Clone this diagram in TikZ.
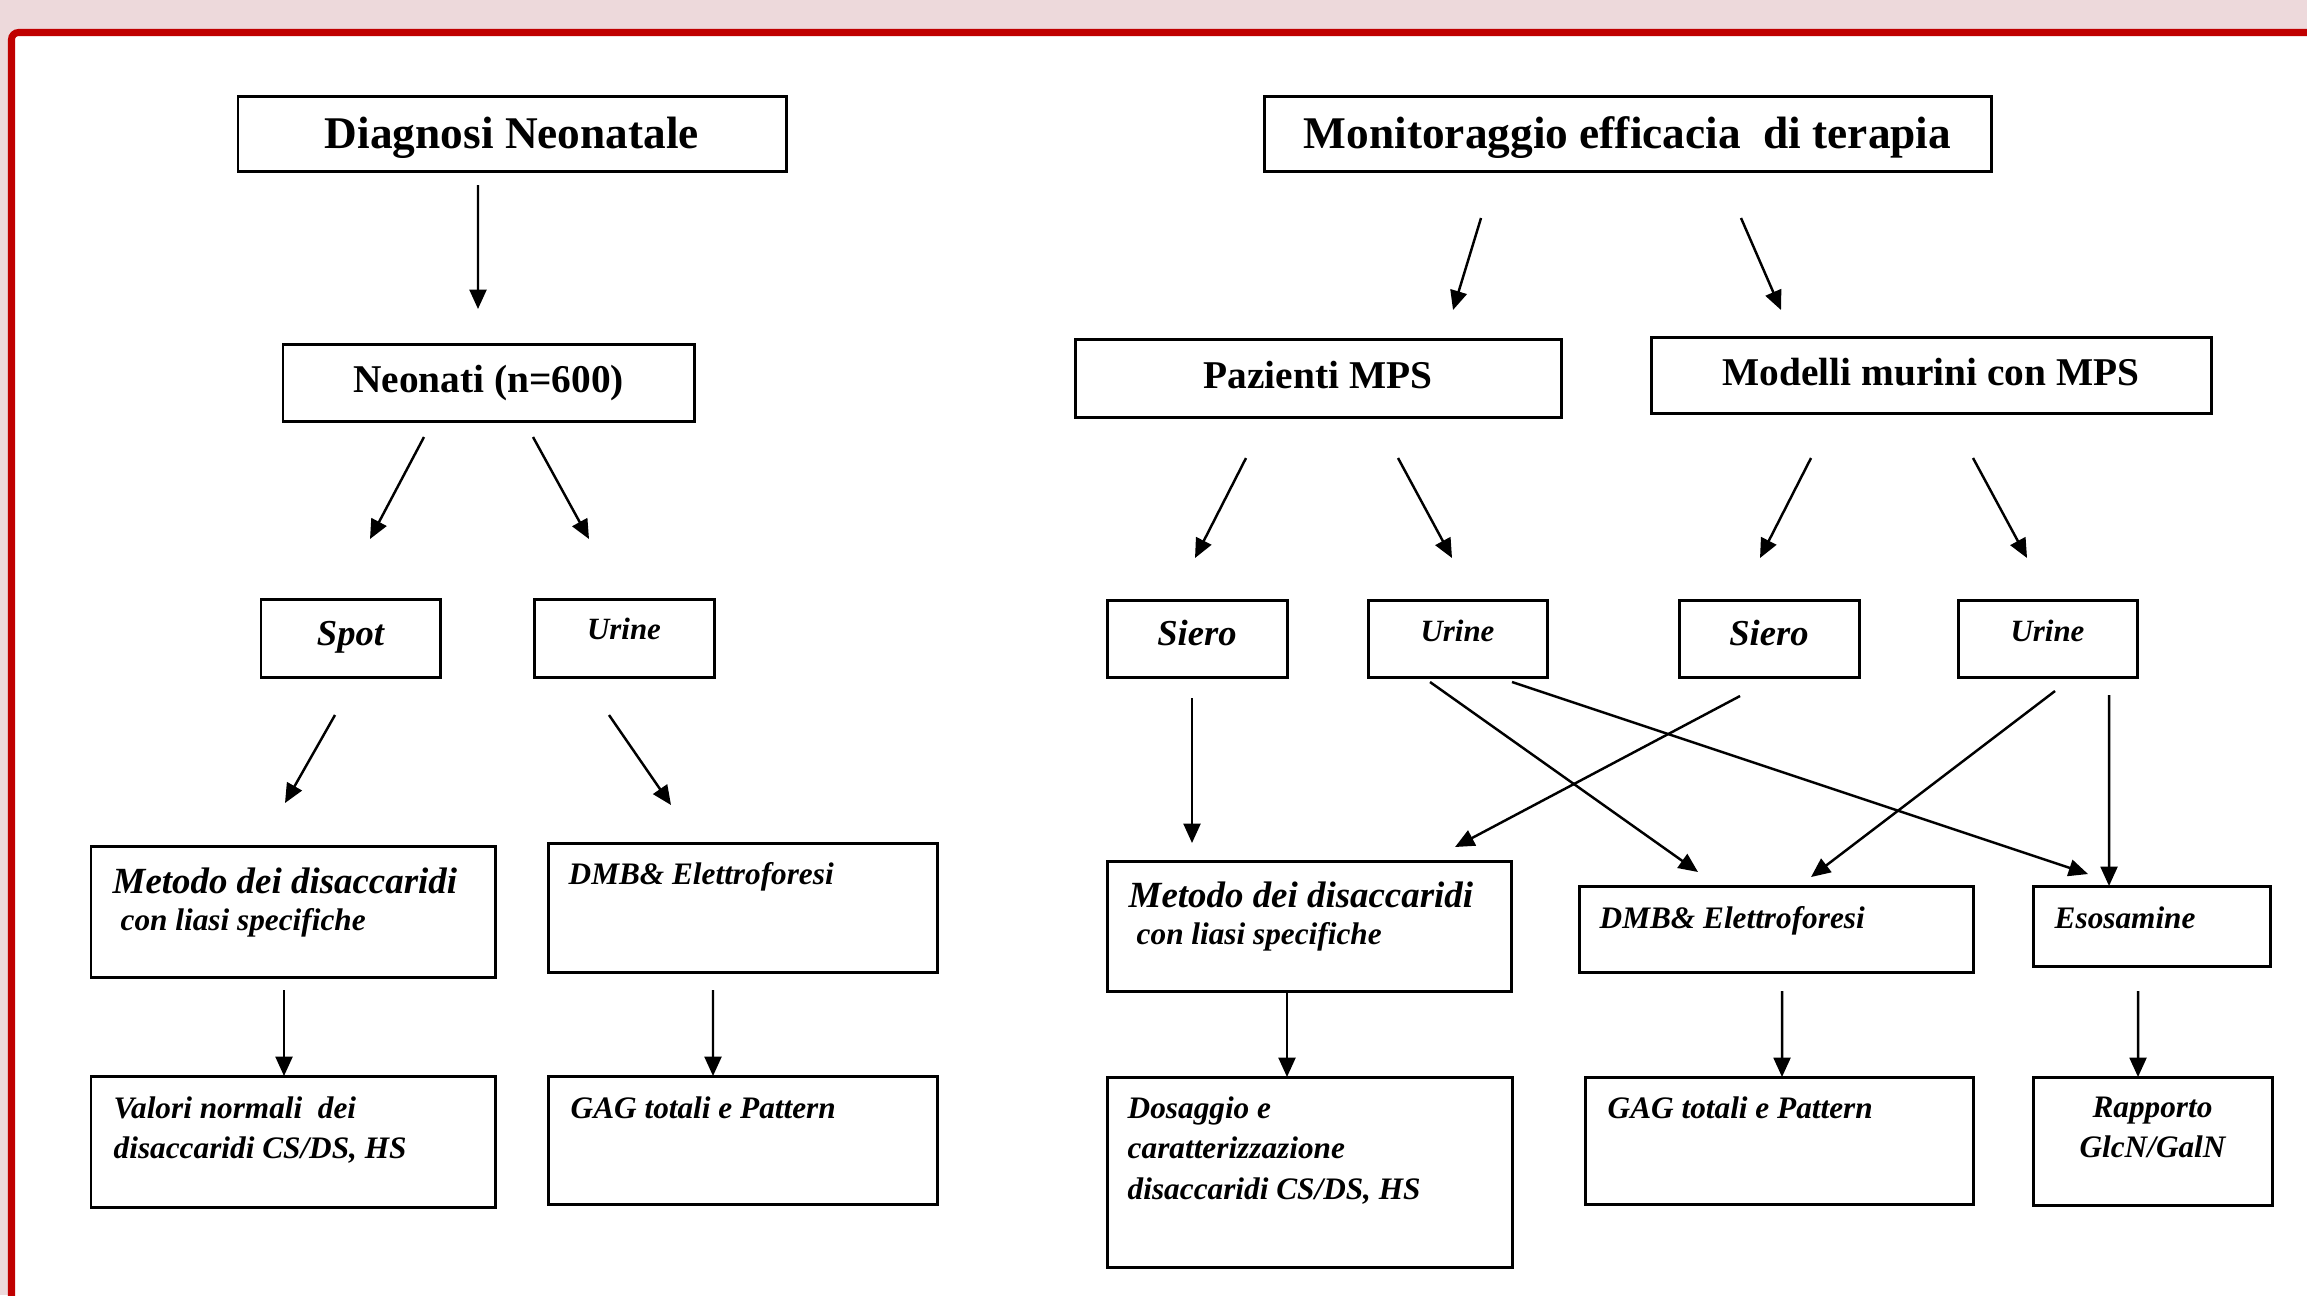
\documentclass[tikz,border=0pt]{standalone}
\usepackage{fontspec}
\setmainfont{Liberation Serif}
\definecolor{SlidePink}{HTML}{EDD9DB}
\definecolor{FrameRed}{HTML}{C00000}
\usetikzlibrary{arrows.meta}

\begin{document}
\begin{tikzpicture}[
  box/.style={
    draw,
    line width=0.85pt,
    inner sep=0pt,
    outer sep=0pt,
    anchor=north west
  },
  maintitle/.style={box, font=\fontsize{12.9}{15}\selectfont\bfseries, text height=0.38cm, text depth=0.08cm},
  group/.style={box, font=\fontsize{11.2}{13}\selectfont\bfseries, text height=0.30cm, text depth=0.10cm},
  sample/.style={box, font=\fontsize{10.4}{12}\selectfont\bfseries\itshape, text height=0.22cm, text depth=0.08cm},
  urine/.style={box, font=\fontsize{8.8}{11}\selectfont\bfseries\itshape, text height=0.15cm, text depth=0.13cm},
  note/.style={anchor=north west, align=left, inner sep=0pt, font=\fontsize{8.9}{11.6}\selectfont\bfseries\itshape},
  arr/.style={-{Triangle[length=5.5pt,width=4.8pt]}, line width=0.7pt}
]

\useasboundingbox (0,0) rectangle (23.07,-12.95);
\begin{scope}
  \clip (0,0) rectangle (23.07,-12.95);
  \fill[SlidePink] (0,0) rectangle (23.07,-12.95);
  \draw[FrameRed, line width=2pt, fill=white, rounded corners=2pt] (0.115,-0.325) rectangle (24,-14);
\end{scope}

% diagnosi neonatale
\node[maintitle, minimum width=5.48cm, minimum height=0.75cm] (diag) at (2.38,-0.96) {Diagnosi Neonatale};
\node[group, minimum width=4.11cm, minimum height=0.77cm] (neo) at (2.83,-3.44) {Neonati (n=600)};
\node[sample, minimum width=1.79cm, minimum height=0.78cm] (spot) at (2.61,-5.99) {Spot};
\node[urine, minimum width=1.80cm, minimum height=0.78cm] (urL) at (5.34,-5.99) {Urine};
\node[box, minimum width=4.04cm, minimum height=1.31cm] (metL) at (0.91,-8.46) {};
\node[box, minimum width=3.89cm, minimum height=1.29cm] (dmbL) at (5.48,-8.43) {};
\node[box, minimum width=4.04cm, minimum height=1.31cm] (valL) at (0.91,-10.76) {};
\node[box, minimum width=3.89cm, minimum height=1.28cm] (gagL) at (5.48,-10.76) {};

\node[note] (metLt) at ([shift={(0.21,-0.215)}]metL.north west) {{\fontsize{10.5}{12}\selectfont Metodo dei disaccaridi}\\[-1.2pt]\hspace{0.08cm}con liasi specifiche};
\node[note] (dmbLt) at ([shift={(0.20,-0.186)}]dmbL.north west) {DMB\& Elettroforesi};
\node[note] (valLt) at ([shift={(0.22,-0.196)}]valL.north west) {Valori normali\ \ dei\\disaccaridi CS/DS, HS};
\node[note] (gagLt) at ([shift={(0.22,-0.196)}]gagL.north west) {GAG totali e Pattern};

\draw[arr] ([shift={(-0.34,-0.14)}]diag.south) -- ([shift={(-0.105,0.35)}]neo.north);
\draw[arr] ([shift={(-0.645,-0.16)}]neo.south) -- ([shift={(0.195,0.60)}]spot.north);
\draw[arr] ([shift={(0.445,-0.16)}]neo.south) -- ([shift={(-0.35,0.60)}]urL.north);
\draw[arr] ([shift={(-0.155,-0.38)}]spot.south) -- ([shift={(-0.08,0.43)}]metL.north);
\draw[arr] ([shift={(-0.15,-0.38)}]urL.south) -- ([shift={(-0.715,0.38)}]dmbL.north);
\draw[arr] ([shift={(-0.09,-0.13)}]metL.south) -- ([xshift=-0.09cm]valL.north);
\draw[arr] ([shift={(-0.295,-0.18)}]dmbL.south) -- ([xshift=-0.295cm]gagL.north);

% monitoraggio terapia
\node[maintitle, minimum width=7.27cm, minimum height=0.75cm] (mon) at (12.64,-0.96) {Monitoraggio efficacia\ \ di terapia};
\node[group, minimum width=4.86cm, minimum height=0.78cm] (paz) at (10.75,-3.39) {Pazienti MPS};
\node[group, minimum width=5.60cm, minimum height=0.76cm] (mod) at (16.51,-3.37) {Modelli murini con MPS};
\node[sample, minimum width=1.80cm, minimum height=0.77cm] (sie1) at (11.07,-6.00) {Siero};
\node[urine, minimum width=1.79cm, minimum height=0.77cm, text height=0.16cm, text depth=0.11cm] (ur1) at (13.68,-6.00) {Urine};
\node[sample, minimum width=1.80cm, minimum height=0.77cm] (sie2) at (16.79,-6.00) {Siero};
\node[urine, minimum width=1.79cm, minimum height=0.77cm, text height=0.16cm, text depth=0.11cm] (ur2) at (19.58,-6.00) {Urine};
\node[box, minimum width=4.04cm, minimum height=1.30cm] (metR) at (11.07,-8.61) {};
\node[box, minimum width=3.94cm, minimum height=0.86cm] (dmbR) at (15.79,-8.86) {};
\node[box, minimum width=2.37cm, minimum height=0.80cm] (eso) at (20.33,-8.86) {};
\node[box, minimum width=4.05cm, minimum height=1.90cm] (dos) at (11.07,-10.77) {};
\node[box, minimum width=3.88cm, minimum height=1.27cm] (gagR) at (15.85,-10.77) {};
\node[box, minimum width=2.39cm, minimum height=1.28cm] (rap) at (20.33,-10.77) {};

\node[note] (metRt) at ([shift={(0.21,-0.205)}]metR.north west) {{\fontsize{10.5}{12}\selectfont Metodo dei disaccaridi}\\[-1.2pt]\hspace{0.08cm}con liasi specifiche};
\node[note] (dmbRt) at ([shift={(0.20,-0.196)}]dmbR.north west) {DMB\& Elettroforesi};
\node[note] (esot) at ([shift={(0.21,-0.196)}]eso.north west) {Esosamine};
\node[note] (dost) at ([shift={(0.20,-0.186)}]dos.north west) {Dosaggio e\\caratterizzazione\\disaccaridi CS/DS, HS};
\node[note] (gagRt) at ([shift={(0.22,-0.186)}]gagR.north west) {GAG totali e Pattern};
\node[note, anchor=north, align=center] (rapt) at ([yshift=-0.19cm]rap.north) {Rapporto\\GlcN/GalN};

\draw[arr] ([shift={(-1.465,-0.47)}]mon.south) -- ([shift={(1.35,0.29)}]paz.north);
\draw[arr] ([shift={(1.135,-0.47)}]mon.south) -- ([shift={(-1.50,0.27)}]mod.north);
\draw[arr] ([shift={(-0.72,-0.41)}]paz.south) -- ([shift={(-0.02,0.42)}]sie1.north);
\draw[arr] ([shift={(0.80,-0.41)}]paz.south) -- ([shift={(-0.055,0.42)}]ur1.north);
\draw[arr] ([shift={(-1.20,-0.45)}]mod.south) -- ([shift={(-0.09,0.42)}]sie2.north);
\draw[arr] ([shift={(0.42,-0.45)}]mod.south) -- ([shift={(-0.205,0.42)}]ur2.north);
\draw[arr] ([shift={(-0.05,-0.21)}]sie1.south) -- ([shift={(-1.17,0.18)}]metR.north);
\draw[arr] ([shift={(-0.275,-0.05)}]ur1.south) -- ([shift={(-0.78,0.14)}]dmbR.north);
\draw[arr] ([shift={(0.545,-0.05)}]ur1.south) -- ([shift={(-0.635,0.12)}]eso.north);
\draw[arr] ([shift={(-0.29,-0.19)}]sie2.south) -- ([shift={(1.46,0.14)}]metR.north);
\draw[arr] ([shift={(0.075,-0.14)}]ur2.south) -- ([shift={(0.35,0.09)}]dmbR.north);
\draw[arr] ([shift={(0.615,-0.18)}]ur2.south) -- ([xshift=-0.425cm]eso.north);
\draw[arr] ([xshift=-0.22cm]metR.south) -- ([xshift=-0.225cm]dos.north);
\draw[arr] ([shift={(0.06,-0.19)}]dmbR.south) -- ([xshift=0.03cm]gagR.north);
\draw[arr] ([shift={(-0.135,-0.25)}]eso.south) -- ([xshift=-0.145cm]rap.north);

\end{tikzpicture}
\end{document}
